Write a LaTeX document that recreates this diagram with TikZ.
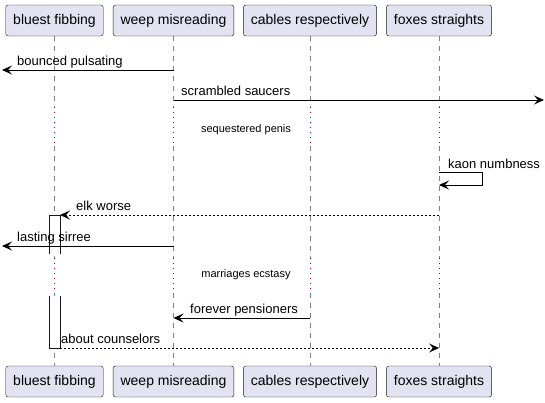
\documentclass[tikz,border=0pt]{standalone}
\usepackage{fontspec}
\setmainfont{Liberation Sans}
\usetikzlibrary{arrows.meta}
\definecolor{partfill}{HTML}{E2E2F0}
\definecolor{partline}{HTML}{181818}
\definecolor{delayred}{HTML}{A80036}
\begin{document}
\begin{tikzpicture}
    [
    x=1pt, y=-1pt,
    every node/.style={font=\fontsize{13}{15}\selectfont},
    participant/.style={draw=partline, fill=partfill, rounded corners=2.5pt, minimum height=31pt, inner xsep=7.5pt, font=\fontsize{14}{16}\selectfont},
    lifeline/.style={gray, line width=0.6pt, dash pattern=on 5pt off 5pt},
    delayline/.style={delayred, line width=0.8pt, dash pattern=on 1pt off 4pt},
    msg/.style={-{Stealth[length=10pt, width=9pt, inset=4pt]}, line width=0.9pt},
    reply/.style={msg, dash pattern=on 2pt off 2pt},
    msglabel/.style={anchor=base west, inner sep=0pt},
    delaytext/.style={font=\fontsize{11}{13}\selectfont}
    ]
    \useasboundingbox (0,0) rectangle (545,402);

% Participants (top)
    \node[participant] (bluest) at (54.5,20.5) {bluest fibbing};
    \node[participant] (weep) at (173.5,20.5) {weep misreading};
    \node[participant] (cables) at (310,20.5) {cables respectively};
    \node[participant] (foxes) at (439,20.5) {foxes straights};

% Participants (bottom)
    \node[participant] (bluestEnd) at (54.5,381.5) {bluest fibbing};
    \node[participant] (weepEnd) at (173.5,381.5) {weep misreading};
    \node[participant] (cablesEnd) at (310,381.5) {cables respectively};
    \node[participant] (foxesEnd) at (439,381.5) {foxes straights};

% Lifelines
    \draw[lifeline] (bluest.south) -- (bluest |- 0,107) (bluest |- 0,146) -- (bluest |- 0,258) (bluest |- 0,293) -- (bluestEnd.north);
    \draw[lifeline] (weep.south) -- (weep |- 0,107) (weep |- 0,146) -- (weep |- 0,258) (weep |- 0,293) -- (weepEnd.north);
    \draw[lifeline] (cables.south) -- (cables |- 0,107) (cables |- 0,146) -- (cables |- 0,258) (cables |- 0,293) -- (cablesEnd.north);
    \draw[lifeline] (foxes.south) -- (foxes |- 0,107) (foxes |- 0,146) -- (foxes |- 0,258) (foxes |- 0,293) -- (foxesEnd.north);

% Delays
    \draw[delayline] (bluest |- 0,107) -- (bluest |- 0,146) (bluest |- 0,258) -- (bluest |- 0,293);
    \draw[delayline] (weep |- 0,107) -- (weep |- 0,146) (weep |- 0,258) -- (weep |- 0,293);
    \draw[delayline] (cables |- 0,107) -- (cables |- 0,146) (cables |- 0,258) -- (cables |- 0,293);
    \draw[delayline] (foxes |- 0,107) -- (foxes |- 0,146) (foxes |- 0,258) -- (foxes |- 0,293);
    \node[delaytext] (delayOne) at (246,130) {sequestered penis};
    \node[delaytext] (delayTwo) at (246,275) {marriages ecstasy};

% Activation of bluest fibbing
    \filldraw[fill=white, draw=partline, line width=0.8pt] (49,254) -- (49,215) -- (60,215) -- (60,254);
    \filldraw[fill=white, draw=partline, line width=0.8pt] (49,296) -- (49,348) -- (60,348) -- (60,296);
    \coordinate (actTop) at (60,215);
    \coordinate (actEnd) at (60,348);

% Free ends
    \coordinate (lostOne) at (2,70);
    \coordinate (lostTwo) at (544,100);
    \coordinate (lostThree) at (2,246);

% Messages
    \draw[msg] (weep |- lostOne) -- (lostOne);
    \node[msglabel] (bounced) at (17,65) {bounced pulsating};

    \draw[msg] (weep |- lostTwo) -- (lostTwo);
    \node[msglabel] (scrambled) at (181,95) {scrambled saucers};

    \draw[msg] (foxes |- 0,172) -- ++(43,0) -- ++(0,13) -- (foxes |- 0,185);
    \node[msglabel] (kaon) at (448,168) {kaon numbness};

    \draw[reply] (foxes |- actTop) -- (actTop);
    \node[msglabel] (elk) at (76,210) {elk worse};

    \draw[msg] (weep |- lostThree) -- (lostThree);
    \node[msglabel] (lasting) at (17,241) {lasting sirree};

    \draw[msg] (cables |- 0,318) -- (weep |- 0,318);
    \node[msglabel] (forever) at (190,313) {forever pensioners};

    \draw[reply] (actEnd) -- (foxes |- actEnd);
    \node[msglabel] (about) at (61,343) {about counselors};

\end{tikzpicture}
\end{document}
